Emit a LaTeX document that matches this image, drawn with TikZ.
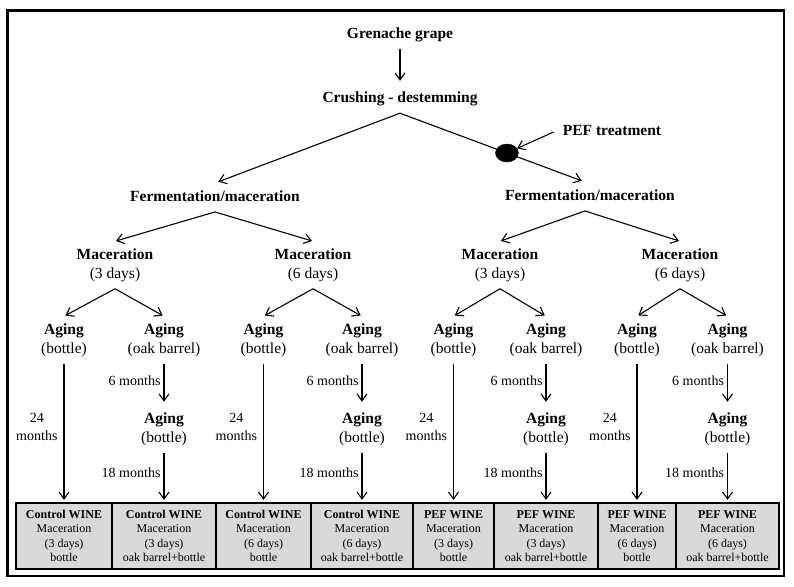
\documentclass[tikz,border=0pt]{standalone}
\usepackage{fontspec}
\setmainfont{Liberation Serif}
\usetikzlibrary{arrows.meta,calc,shapes.geometric}
\definecolor{boxgray}{HTML}{D9D9D9}
\tikzset{
  big/.style={font=\fontsize{15.5}{19}\selectfont\bfseries, inner xsep=0pt, inner ysep=7pt, text height=11pt, text depth=3.5pt},
  two/.style={align=center, font=\fontsize{15.5}{19}\selectfont, inner xsep=0pt, inner ysep=7pt},
  lbl/.style={font=\fontsize{14}{18}\selectfont, inner xsep=3pt, inner ysep=1pt, align=center},
  wine/.style={draw, line width=1.2pt, fill=boxgray, minimum height=66pt, align=center, font=\fontsize{12}{14.3}\selectfont, inner sep=0pt},
  arr/.style={-{Straight Barb[length=7pt,width=10pt]}, line width=1.1pt},
  ln/.style={line width=1.1pt},
  dotnode/.style={ellipse, fill=black, draw=black, minimum width=23pt, minimum height=18pt, inner sep=0pt}
}
\begin{document}
\begin{tikzpicture}[x=1pt,y=-1pt]
\useasboundingbox (0,0) rectangle (794,586);
\draw[line width=2.8pt] (7.5,10.5) rectangle (784,576);

% top
\node[big] (grape) at (400,34.75) {Grenache grape};
\node[big] (crush) at (400,98.75) {Crushing - destemming};
\node[big] (fermL) at (215,197.5) {Fermentation/maceration};
\node[big] (fermR) at (590,196.5) {Fermentation/maceration};
\node[big, inner xsep=9pt] (pef) at (612,132) {PEF treatment};

\draw[arr, shorten >=3.5pt] (grape.south) -- (crush.north);
\draw[arr, shorten >=3.5pt] (crush.south) -- (fermL.north);
\draw[arr, shorten >=3.5pt] (crush.south) -- ([xshift=-5pt]fermR.north);
\node[dotnode] (dot) at ($(crush.south)!0.578!([xshift=-5pt]fermR.north)$) {};
\draw[arr] (pef.west) -- (dot);

% maceration
\node[two] (m1) at (115,265) {\textbf{Maceration}\\(3 days)};
\node[two] (m2) at (313,265) {\textbf{Maceration}\\(6 days)};
\node[two] (m3) at (500,265) {\textbf{Maceration}\\(3 days)};
\node[two] (m4) at (680,265) {\textbf{Maceration}\\(6 days)};
\draw[arr, shorten >=1pt] (fermL.south) -- (m1.north);
\draw[arr, shorten >=1pt] (fermL.south) -- (m2.north);
\draw[arr, shorten >=1pt] ([xshift=-5pt]fermR.south) -- (m3.north);
\draw[arr, shorten >=1pt] ([xshift=-5pt]fermR.south) -- (m4.north);

% wine boxes
\node[wine, minimum width=96pt]  (w1) at (64,536)    {\textbf{Control WINE}\\Maceration\\(3 days)\\bottle};
\node[wine, minimum width=104pt] (w2) at (164,536)   {\textbf{Control WINE}\\Maceration\\(3 days)\\oak barrel+bottle};
\node[wine, minimum width=95pt]  (w3) at (263.5,536) {\textbf{Control WINE}\\Maceration\\(6 days)\\bottle};
\node[wine, minimum width=102pt] (w4) at (362,536)   {\textbf{Control WINE}\\Maceration\\(6 days)\\oak barrel+bottle};
\node[wine, minimum width=81pt]  (w5) at (453.5,536) {\textbf{PEF WINE}\\Maceration\\(3 days)\\bottle};
\node[wine, minimum width=104pt] (w6) at (546,536)   {\textbf{PEF WINE}\\Maceration\\(3 days)\\oak barrel+bottle};
\node[wine, minimum width=78pt]  (w7) at (637,536)   {\textbf{PEF WINE}\\Maceration\\(6 days)\\bottle};
\node[wine, minimum width=103pt] (w8) at (727.5,536) {\textbf{PEF WINE}\\Maceration\\(6 days)\\oak barrel+bottle};

% aging nodes
\foreach \i/\m/\x in {1/m1/64, 3/m2/263.5, 5/m3/453.5, 7/m4/637}{
  \node[two] (a\i) at (\x,340) {\textbf{Aging}\\(bottle)};
  \draw[arr, shorten >=1.5pt] (\m.south) -- (a\i.north);
}
\foreach \i/\m/\x in {2/m1/164, 4/m2/362, 6/m3/546, 8/m4/727.5}{
  \node[two] (a\i) at (\x,340) {\textbf{Aging}\\(oak barrel)};
  \draw[arr, shorten >=1.5pt] (\m.south) -- (a\i.north);
  \node[two] (b\i) at (\x,429) {\textbf{Aging}\\(bottle)};
  \draw[arr, shorten >=3.5pt] (a\i.south) -- node[lbl, left, pos=0.4] {6 months} (b\i.north);
  \draw[arr, shorten >=2.5pt] (b\i.south) -- node[lbl, left, pos=0.41] {18 months} (w\i.north);
}
\foreach \i in {1,3,5,7}{
  \draw[arr, shorten >=2.5pt] (a\i.south) -- node[lbl, left, pos=0.456, inner xsep=6pt] {24\\months} (w\i.north);
}
\end{tikzpicture}
\end{document}
